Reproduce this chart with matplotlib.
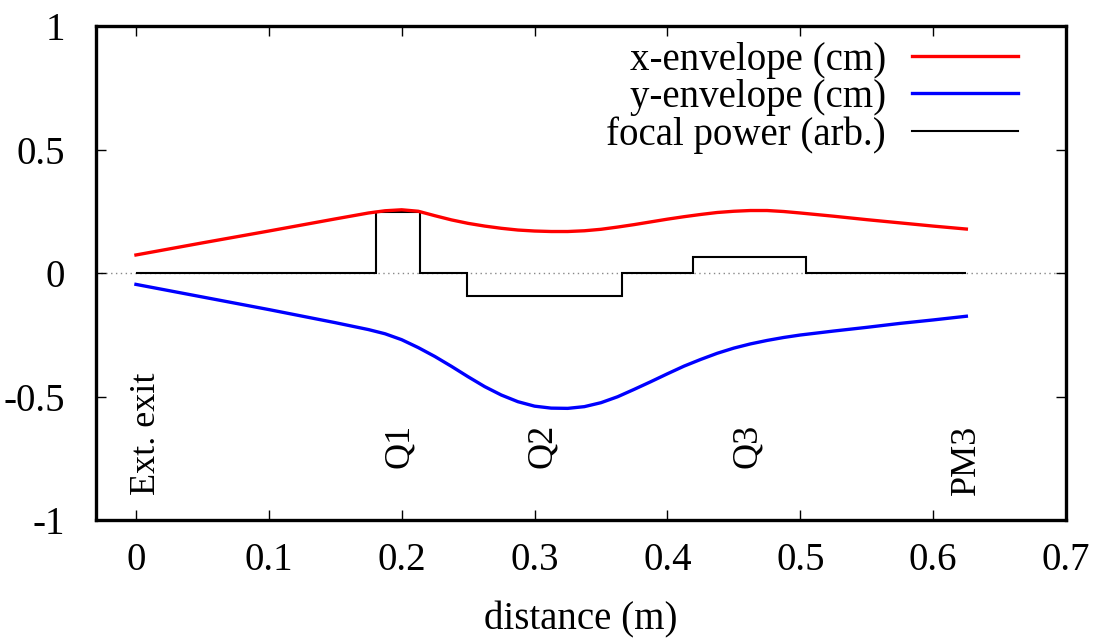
import numpy as np
import matplotlib
matplotlib.use("Agg")
import matplotlib.pyplot as plt

plt.rcParams['font.family'] = ['Liberation Serif', 'DejaVu Serif']

# beam envelopes (distance in m)
dist = [0.0, 0.05, 0.10, 0.15, 0.175, 0.1875, 0.20, 0.2125, 0.225, 0.2375,
        0.25, 0.2625, 0.275, 0.2875, 0.30, 0.3125, 0.325, 0.3375, 0.35,
        0.3625, 0.375, 0.3875, 0.40, 0.4125, 0.425, 0.4375, 0.45, 0.4625,
        0.475, 0.4875, 0.50, 0.525, 0.55, 0.575, 0.60, 0.625]
x_env = [0.073, 0.122, 0.170, 0.219, 0.243, 0.252, 0.256, 0.250, 0.232,
         0.215, 0.201, 0.190, 0.181, 0.174, 0.170, 0.168, 0.168, 0.171,
         0.177, 0.186, 0.196, 0.207, 0.218, 0.228, 0.237, 0.245, 0.250,
         0.253, 0.253, 0.249, 0.243, 0.230, 0.216, 0.203, 0.190, 0.178]
y_env = [-0.046, -0.097, -0.148, -0.201, -0.229, -0.246, -0.270, -0.302,
         -0.338, -0.378, -0.420, -0.460, -0.494, -0.521, -0.539, -0.547,
         -0.548, -0.541, -0.525, -0.501, -0.471, -0.440, -0.408, -0.377,
         -0.350, -0.325, -0.304, -0.287, -0.273, -0.261, -0.251, -0.235,
         -0.220, -0.204, -0.190, -0.175]

# quadrupole focal power (step function)
quad_edges = [0.0, 0.1805, 0.214, 0.249, 0.366, 0.4195, 0.504, 0.625]
quad_power = [0.0, 0.246, 0.0, -0.092, 0.0, 0.064, 0.0]

# element markers
elem_names = ['Ext. exit', 'Q1', 'Q2', 'Q3', 'PM3']
elem_pos = [0.008, 0.198, 0.306, 0.460, 0.625]
elem_ybot = [-0.90, -0.79, -0.79, -0.79, -0.90]

fs = 28

fig = plt.figure(figsize=(11.05, 6.39), dpi=100)
ax = fig.add_axes([0.0866, 0.1862, 0.8781, 0.7731])

ax.axhline(0, color='#888888', ls=(0, (1, 2.5)), lw=1.0, zorder=1)
ax.plot(dist, x_env, color='#ff0000', lw=2.4, label='x-envelope (cm)', zorder=3)
ax.plot(dist, y_env, color='#0000ff', lw=2.4, label='y-envelope (cm)', zorder=3)
ax.stairs(quad_power, quad_edges, color='black', lw=1.5,
          label='focal power (arb.)', zorder=2)

for name, xp, yb in zip(elem_names, elem_pos, elem_ybot):
    ax.text(xp, yb, name, rotation=90, ha='center', va='bottom', fontsize=26)

ax.set_xlim(-0.0303, 0.7)
ax.set_ylim(-1, 1)
ax.set_xticks(np.arange(0, 0.71, 0.1))
ax.set_xticklabels(['0', '0.1', '0.2', '0.3', '0.4', '0.5', '0.6', '0.7'])
ax.set_yticks([-1, -0.5, 0, 0.5, 1])
ax.set_yticklabels(['-1', '-0.5', '0', '0.5', '1'])
ax.tick_params(direction='in', length=7, width=1.0, top=True, right=True,
               labelsize=fs)
ax.tick_params(axis='y', pad=22)
ax.tick_params(axis='x', pad=16)
for s in ax.spines.values():
    s.set_linewidth(2.4)

ax.set_xlabel('distance (m)', fontsize=fs, labelpad=16)

leg = ax.legend(loc='upper right', bbox_to_anchor=(1018 / 1105, 1 - 42 / 639),
                bbox_transform=fig.transFigure, frameon=False, fontsize=fs,
                markerfirst=False, handlelength=2.72, handletextpad=0.68,
                labelspacing=0.0, borderpad=0, borderaxespad=0)

fig.savefig('out.png', dpi=100)
